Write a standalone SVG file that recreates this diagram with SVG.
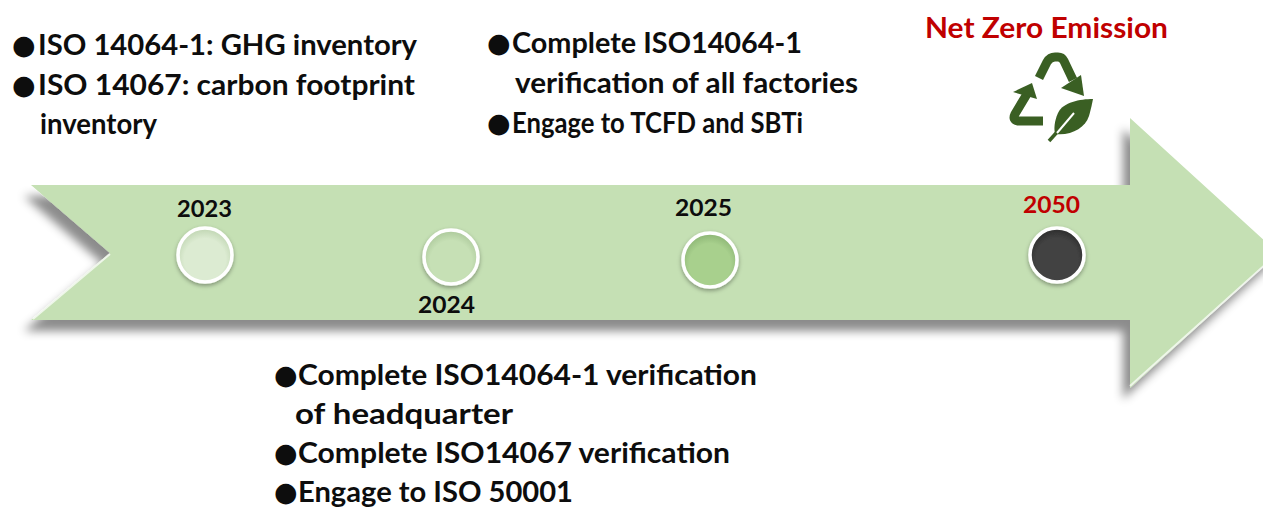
<svg xmlns="http://www.w3.org/2000/svg" width="1263" height="508" viewBox="0 0 1263 508">
  <style>
    .t { font-family: Lato, "Open Sans", "Liberation Sans", sans-serif; font-weight: 700; font-size: 28px; fill: #0d0d0d; }
    .b { font-family: "DejaVu Sans", sans-serif; font-size: 27px; fill: #0d0d0d; }
    .yr { font-family: Lato, "Open Sans", "Liberation Sans", sans-serif; font-weight: 700; font-size: 23px; fill: #0d0d0d; }
    .red { fill: #C00000; }
    .node { stroke: #ffffff; stroke-width: 3.5; filter: url(#ns); }
    .icon { fill: none; stroke: #3A5F23; stroke-width: 9; stroke-linecap: butt; stroke-linejoin: round; }
  </style>
  <defs>
    <filter id="as" x="-5%" y="-20%" width="110%" height="150%">
      <feDropShadow dx="-7" dy="11" stdDeviation="5" flood-color="#000" flood-opacity="0.45"/>
    </filter>
    <filter id="ns" x="-30%" y="-30%" width="160%" height="160%">
      <feDropShadow dx="0" dy="2" stdDeviation="2" flood-color="#000" flood-opacity="0.35"/>
    </filter>
    <radialGradient id="g1" cx="50%" cy="58%" r="55%">
      <stop offset="0.7" stop-color="#DCEBD2"/>
      <stop offset="1" stop-color="#C3D8B6"/>
    </radialGradient>
    <radialGradient id="g2" cx="50%" cy="58%" r="55%">
      <stop offset="0.7" stop-color="#C6E0B5"/>
      <stop offset="1" stop-color="#AFCB9E"/>
    </radialGradient>
    <radialGradient id="g3" cx="50%" cy="58%" r="55%">
      <stop offset="0.7" stop-color="#A8D08D"/>
      <stop offset="1" stop-color="#8FB877"/>
    </radialGradient>
    <radialGradient id="g4" cx="50%" cy="58%" r="55%">
      <stop offset="0.7" stop-color="#434343"/>
      <stop offset="1" stop-color="#2E2E2E"/>
    </radialGradient>
  </defs>

  <rect width="1263" height="508" fill="#ffffff"/>

  <g id="timeline">
    <path d="M31,185 L1130,185 L1130,118 L1278,253 L1130,388 L1130,320 L31,320 L110,253 Z" fill="#C5E0B4" filter="url(#as)"/>
    <path d="M110,254 L33,319 M1130,386 L1276,255" fill="none" stroke="#ffffff" stroke-opacity="0.7" stroke-width="2"/>
  </g>

  <g id="connectors"></g>

  <g id="node-2023">
    <circle class="node" cx="205" cy="255" r="27" fill="url(#g1)"/>
    <text class="yr" x="177" y="217" textLength="55" lengthAdjust="spacingAndGlyphs">2023</text>
  </g>
  <g id="node-2024">
    <circle class="node" cx="451" cy="257" r="27" fill="url(#g2)"/>
    <text class="yr" x="418" y="313" textLength="57" lengthAdjust="spacingAndGlyphs">2024</text>
  </g>
  <g id="node-2025">
    <circle class="node" cx="710" cy="260" r="27" fill="url(#g3)"/>
    <text class="yr" x="675" y="216" textLength="57" lengthAdjust="spacingAndGlyphs">2025</text>
  </g>
  <g id="node-2050">
    <circle class="node" cx="1057" cy="255" r="27" fill="url(#g4)"/>
    <text class="yr red" x="1023" y="213" textLength="57" lengthAdjust="spacingAndGlyphs">2050</text>
  </g>

  <g id="goal">
    <text class="t red" x="925" y="38" font-size="27" textLength="243" lengthAdjust="spacingAndGlyphs">Net Zero Emission</text>
    <g id="recycle-icon">
      <path class="icon" d="M1039,78 L1047,62 Q1050,57 1055,57 L1058,57 Q1062,57 1064,61 L1073,80"/>
      <path d="M1061,88 L1081,75 L1084,96 Z" fill="#3A5F23"/>
      <path class="icon" d="M1027,94 L1015,114 Q1012,120 1018,121 L1043,121"/>
      <path d="M1032,83 L1013,92 L1037,99 Z" fill="#3A5F23"/>
      <path d="M1093,99 C1080,99 1063,102 1058,113 C1054,122 1054,129 1055,134 C1071,136 1085,128 1089,116 C1091,109 1092,104 1093,99 Z" fill="#3A5F23"/>
      <path d="M1058,131 L1049,141" stroke="#3A5F23" stroke-width="3.5" fill="none"/>
      <path d="M1057,133 L1074,113" stroke="#ffffff" stroke-width="2" fill="none"/>
    </g>
  </g>

  <g id="text-2023">
    <text class="b" x="12" y="54">●</text>
    <text class="t" x="38" y="55" textLength="379" lengthAdjust="spacingAndGlyphs">ISO 14064-1: GHG inventory</text>
    <text class="b" x="12" y="94">●</text>
    <text class="t" x="38" y="95" textLength="377" lengthAdjust="spacingAndGlyphs">ISO 14067: carbon footprint</text>
    <text class="t" x="40" y="134" textLength="117" lengthAdjust="spacingAndGlyphs">inventory</text>
  </g>

  <g id="text-2025">
    <text class="b" x="487" y="52">●</text>
    <text class="t" x="512" y="53" textLength="290" lengthAdjust="spacingAndGlyphs">Complete ISO14064-1</text>
    <text class="t" x="515" y="93" textLength="343" lengthAdjust="spacingAndGlyphs">verification of all factories</text>
    <text class="b" x="487" y="132">●</text>
    <text class="t" x="512" y="133" textLength="291" lengthAdjust="spacingAndGlyphs">Engage to TCFD and SBTi</text>
  </g>

  <g id="text-2024">
    <text class="b" x="274" y="384">●</text>
    <text class="t" x="298" y="385" textLength="459" lengthAdjust="spacingAndGlyphs">Complete ISO14064-1 verification</text>
    <text class="t" x="295" y="424" textLength="218" lengthAdjust="spacingAndGlyphs">of headquarter</text>
    <text class="b" x="274" y="462">●</text>
    <text class="t" x="298" y="463" textLength="432" lengthAdjust="spacingAndGlyphs">Complete ISO14067 verification</text>
    <text class="b" x="274" y="501">●</text>
    <text class="t" x="298" y="502" textLength="275" lengthAdjust="spacingAndGlyphs">Engage to ISO 50001</text>
  </g>
</svg>
